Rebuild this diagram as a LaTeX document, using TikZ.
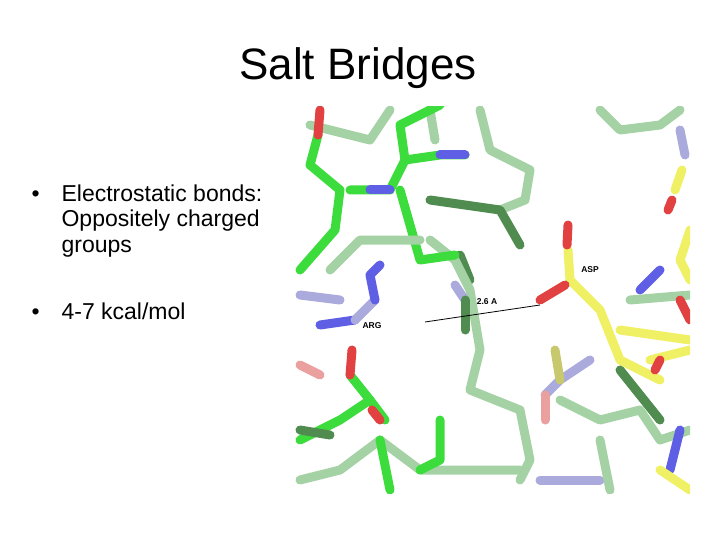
\documentclass[tikz,border=0pt]{standalone}
\usepackage{fontspec}
\setmainfont{Liberation Sans}
\definecolor{cg}{RGB}{60,220,60}
\definecolor{clg}{RGB}{165,210,165}
\definecolor{cdg}{RGB}{80,140,80}
\definecolor{cb}{RGB}{95,95,230}
\definecolor{clb}{RGB}{170,170,220}
\definecolor{cr}{RGB}{225,65,65}
\definecolor{clr}{RGB}{235,160,160}
\definecolor{cy}{RGB}{240,240,100}
\definecolor{cdy}{RGB}{200,200,110}
\tikzset{stick/.style={line width=9pt,line cap=round,line join=round},
 lbl/.style={font=\bfseries\fontsize{8.5}{9}\selectfont,inner sep=1pt}}
\begin{document}
\begin{tikzpicture}[x=1pt,y=-1pt]
\useasboundingbox (0,0) rectangle (720,540);
\node[font=\fontsize{44}{48}\selectfont] (title) at (358,68) {Salt Bridges};
\node[anchor=north west,align=left,font=\fontsize{23}{25}\selectfont] (b1) at (28,181) {\fontsize{23}{25}\selectfont•\hspace{22pt}\parbox[t]{250pt}{\fontsize{23}{25.5}\selectfont Electrostatic bonds:\\Oppositely charged\\groups}};
\node[anchor=north west,font=\fontsize{23}{25}\selectfont] (b2) at (28,299) {•\hspace{22pt}4-7 kcal/mol};
\begin{scope}
\clip (293,107) rectangle (690,493);
\draw[stick,clg] (310,125)--(370,140)--(390,110);
\draw[stick,clg] (430,110)--(435,140);
\draw[stick,clg] (480,110)--(490,150)--(530,170)--(525,200)--(500,210);
\draw[stick,cdg] (430,200)--(500,210)--(520,245);
\draw[stick,cdg] (460,255)--(470,280);
\draw[stick,clg] (430,240)--(455,260)--(470,290)--(480,350)--(470,390)--(520,410)--(530,460)--(520,480);
\draw[stick,cg] (318,135)--(310,165)--(340,190)--(335,230)--(300,270);
\draw[stick,cr] (318,135)--(320,110);
\draw[stick,cg] (400,190)--(420,260)--(455,255);
\draw[stick,clg] (330,270)--(360,240)--(420,240);
\draw[stick,cg] (350,190)--(390,190)--(405,160)--(440,155)--(465,155);
\draw[stick,cg] (405,160)--(400,125)--(440,105);
\draw[stick,cb] (390,190)--(370,190);
\draw[stick,cb] (440,155)--(465,155);
\draw[stick,clb] (300,295)--(340,300);
\draw[stick,clb] (455,285)--(465,300);
\draw[stick,cdg] (465,300)--(465,330);
\draw[stick,cb] (320,325)--(355,320);
\draw[stick,clb] (355,320)--(375,300);
\draw[stick,cb] (375,300)--(370,275)--(380,265);
\draw[stick,cy] (568,250)--(570,280)--(600,310)--(620,360)--(660,380);
\draw[stick,cr] (567,245)--(568,225);
\draw[stick,cr] (565,285)--(540,300);
\draw[stick,clr] (300,365)--(320,375);
\draw[stick,cg] (300,440)--(340,420)--(370,400)--(350,375);
\draw[stick,cr] (350,375)--(352,350);
\draw[stick,cg] (370,400)--(385,420);
\draw[stick,cr] (380,420)--(372,410);
\draw[stick,clg] (300,480)--(340,470)--(380,440)--(420,470)--(460,470)--(520,470);
\draw[stick,cg] (440,420)--(440,460)--(420,470);
\draw[stick,cg] (380,440)--(390,490);
\draw[stick,cdg] (300,430)--(330,435);
\draw[stick,clb] (540,480)--(600,480);
\draw[stick,clg] (600,110)--(620,130)--(660,125)--(680,110);
\draw[stick,clb] (680,130)--(685,155);
\draw[stick,cy] (682,170)--(675,190);
\draw[stick,cr] (668,210)--(672,200);
\draw[stick,cy] (690,230)--(680,260)--(690,280);
\draw[stick,cb] (660,270)--(640,290);
\draw[stick,clg] (630,300)--(690,295);
\draw[stick,cy] (620,330)--(690,340);
\draw[stick,cy] (650,360)--(690,350);
\draw[stick,cr] (680,300)--(690,320);
\draw[stick,cr] (660,360)--(655,370);
\draw[stick,clb] (590,360)--(560,380)--(545,395);
\draw[stick,clr] (545,395)--(545,420);
\draw[stick,cdg] (620,370)--(660,420);
\draw[stick,cdy] (555,350)--(560,380);
\draw[stick,clg] (560,400)--(600,420)--(640,410)--(660,440)--(690,430);
\draw[stick,cb] (680,430)--(670,470);
\draw[stick,cy] (660,470)--(690,490);
\draw[stick,clg] (600,440)--(610,490);
\end{scope}
\coordinate (e1) at (425,322);
\coordinate (e2) at (540,305);
\draw[black,line width=0.8pt] (e1)--(e2);
\node[lbl] (asp) at (590,270) {ASP};
\node[lbl] (dist) at (487,302) {2.6 A};
\node[lbl] (arg) at (372,326) {ARG};
\end{tikzpicture}
\end{document}
